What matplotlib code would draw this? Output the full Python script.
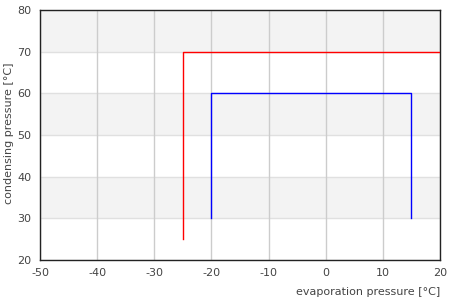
import numpy as np
import matplotlib
matplotlib.use("Agg")
import matplotlib.pyplot as plt

plt.rcParams['font.family'] = ['DejaVu Sans']

# red series
red_x = [-25, -25, 20]
red_y = [25, 70, 70]
# blue series
blue_x = [-20, -20, 15, 15]
blue_y = [30, 60, 60, 30]

x_ticks = [-50, -40, -30, -20, -10, 0, 10, 20]
y_ticks = [20, 30, 40, 50, 60, 70, 80]

fig = plt.figure(figsize=(4.5, 3), dpi=100)
ax = fig.add_axes([40 / 450, 40 / 300, 400 / 450, 250 / 300])

# alternating bands
for lo in [30, 50, 70]:
    ax.axhspan(lo, lo + 10, color='#f3f3f3', zorder=0, lw=0)

for y in y_ticks:
    ax.axhline(y, color='#e0e0e0', lw=1, zorder=1)
for x in x_ticks:
    ax.axvline(x, color='#cccccc', lw=1, zorder=1)

ax.plot(red_x, red_y, color='#ff0000', lw=1, zorder=3)
ax.plot(blue_x, blue_y, color='#0000ff', lw=1, zorder=3)

ax.set_xlim(-50, 20)
ax.set_ylim(20, 80)
ax.set_xticks(x_ticks)
ax.set_yticks(y_ticks)
ax.set_xticklabels([str(v) for v in x_ticks])
ax.set_yticklabels([str(v) for v in y_ticks])
ax.tick_params(length=0, labelsize=8, labelcolor='#444444', pad=6)
for s in ax.spines.values():
    s.set_color('#222222')
    s.set_linewidth(1)

ax.text(1.0, -0.128, "evaporation pressure [°C]", transform=ax.transAxes,
        ha='right', va='center', fontsize=8, color='#444444')
fig.text(9.5 / 450, 1 - 133 / 300, "condensing pressure [°C]", rotation=90,
         ha='center', va='center', fontsize=8, color='#444444')

fig.savefig("out.png", dpi=100)
